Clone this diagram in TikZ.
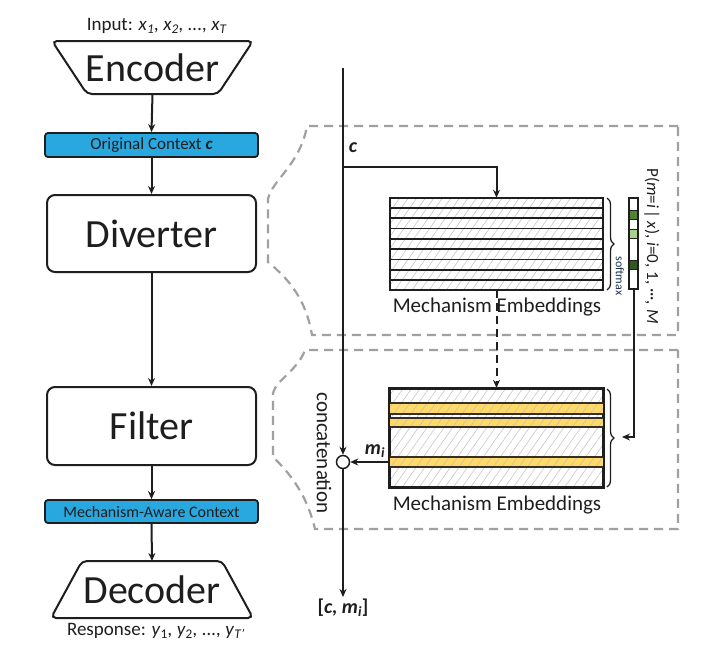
\documentclass[tikz,border=0pt]{standalone}
\usepackage{fontspec}
\setmainfont{Carlito}
\usetikzlibrary{arrows.meta,patterns.meta,decorations.pathreplacing,calc}
\definecolor{ctxblue}{HTML}{29A8E0}
\definecolor{dashgray}{HTML}{A0A0A0}
\definecolor{embyel}{HTML}{FFD966}
\definecolor{gA}{HTML}{548235}
\definecolor{gB}{HTML}{A9D08E}
\definecolor{gC}{HTML}{375623}
\definecolor{ink}{HTML}{1E1E1E}
\definecolor{smblue}{HTML}{1F3050}
\newcommand{\myfs}[1]{\fontsize{#1}{#1}\selectfont}
\begin{document}
\begin{tikzpicture}[x=1pt,y=-1pt, line width=2pt,
  >={Stealth[length=8pt,width=7pt]},
  bigbox/.style={draw=ink, rounded corners=8pt, line width=2pt, minimum width=209pt, minimum height=77pt, inner sep=0, font=\myfs{40}, text=ink},
  ctxbox/.style={draw=ink, fill=ctxblue, rounded corners=3pt, line width=1.8pt, minimum width=213pt, minimum height=24pt, inner sep=0, font=\myfs{16}, text=ink},
  trap/.style={inner sep=0, font=\myfs{40}, text=ink},
  trapline/.style={draw=ink, line width=2pt, rounded corners=5pt},
  conn/.style={->, line width=2pt, draw=ink},
  region/.style={draw=dashgray, dash pattern=on 9pt off 6pt, line width=2.2pt},
  hatch/.style={pattern={Lines[angle=55,distance=7pt,line width=0.5pt]}, pattern color=black!25},
  embbox/.style={draw=ink, line width=2.2pt, minimum width=213pt, inner sep=0},
  lbl/.style={font=\myfs{21}, text=ink, inner sep=0}
]
\useasboundingbox (0,0) rectangle (706,659);

% ---------- dashed regions ----------
\draw[region] (678,126) -- (307,126) .. controls (300,165) and (272,180) .. (268,199) -- (268,262)
  .. controls (290,280) and (306,300) .. (312,335) -- (678,335) -- cycle;
\draw[region] (678,350) -- (305,350) .. controls (298,370) and (276,380) .. (273,393) -- (273,457)
  .. controls (295,478) and (308,500) .. (315,529) -- (678,529) -- cycle;

% ---------- left pipeline ----------
\node[font=\myfs{19}, text=ink, inner sep=0] (inp) at (157,26) {Input: \textit{x}\textsubscript{\textit{1}}\textit{, x}\textsubscript{\textit{2}}\textit{, ..., x}\textsubscript{\textit{T}}};
\node[trap, minimum width=199pt, minimum height=51pt] (enc) at (152.5,67.5) {Encoder};
\draw[trapline] (enc.north west) -- (enc.north east) -- ([xshift=-35pt]enc.south east) -- ([xshift=35pt]enc.south west) -- cycle;
\node[ctxbox, font=\myfs{17}] (ctx) at (151.5,145) {Original Context \textbf{\textit{c}}};
\node[bigbox] (div) at (151.5,233.5) {Diverter};
\node[bigbox, minimum height=78pt] (fil) at (151.5,426) {Filter};
\node[ctxbox, minimum height=23pt] (mac) at (151.5,511.5) {Mechanism-Aware Context};
\node[trap, minimum width=200pt, minimum height=55pt] (dec) at (152,589.5) {Decoder};
\draw[trapline] ([xshift=31pt]dec.north west) -- ([xshift=-31pt]dec.north east) -- (dec.south east) -- (dec.south west) -- cycle;
\node[font=\myfs{19}, text=ink, inner sep=0] (resp) at (156,631) {Response: \textit{y}\textsubscript{1}\textit{, y}\textsubscript{2}\textit{, ..., y}\textsubscript{\textit{T'}}};

\draw[conn] (enc.south) -- (ctx.north);
\draw[conn] (ctx.south) -- (div.north);
\draw[conn] (div.south) -- (fil.north);
\draw[conn] (fil.south) -- (mac.north);
\draw[conn] (mac.south) -- (dec.north);

% ---------- upper mechanism embeddings ----------
\node[embbox, hatch, minimum height=92pt] (embU) at (496.5,244) {};
\foreach \i in {1,...,8}
  \draw[ink, line width=1.8pt] ($(embU.north west)!\i/9!(embU.south west)$) -- ($(embU.north east)!\i/9!(embU.south east)$);
\node[lbl] (labU) at (497,307) {Mechanism Embeddings};

% ---------- lower mechanism embeddings ----------
\node[embbox, hatch, minimum height=98pt] (embL) at (496.5,438) {};
\foreach \ya/\yb in {403/414, 418/427, 457/467}{
  \fill[embyel] (390,\ya) rectangle (603,\yb);
  \fill[hatch] (390,\ya) rectangle (603,\yb);
  \draw[ink!85!brown, line width=1.4pt] (390,\ya) -- (603,\ya) (390,\yb) -- (603,\yb);
}
\draw[ink, line width=2.2pt] (embL.north west) rectangle (embL.south east);
\node[lbl] (labL) at (497,505) {Mechanism Embeddings};

\draw[conn, dash pattern=on 8pt off 5pt] (embU.south) -- (embL.north);

% ---------- braces ----------
\draw[ink, line width=1.3pt, decorate, decoration={brace, amplitude=7pt}] (607,198) -- (607,290);
\draw[ink, line width=1.3pt, decorate, decoration={brace, amplitude=7pt}] (607,389) -- (607,487);
\node[rotate=-90, font=\myfs{12}, text=smblue, inner sep=0] (sm) at (620,276) {softmax};

% ---------- probability bar ----------
\fill[gA] (629,210) rectangle (638,219);
\fill[gB] (629,229) rectangle (638,238);
\fill[gC] (629,260) rectangle (638,269);
\foreach \yy in {210,219,229,238,260,269}
  \draw[ink, line width=0.9pt] (629,\yy) -- (638,\yy);
\node[draw=ink, line width=1.3pt, minimum width=9pt, minimum height=91pt, inner sep=0] (bar) at (633.5,243.5) {};
\node[rotate=-90, font=\myfs{17}, text=ink, inner sep=0] (ptext) at (652,246) {P(\textit{m}=\textit{i}\,|\,\textit{x}), \textit{i}=0, 1, ···, \textit{M}};
\coordinate (bl) at (622,437);
\draw[conn] (bar.south) |- (bl);

% ---------- main vertical line ----------
\coordinate (top) at (343,68);
\coordinate (br) at (343,167);
\node[draw=ink, fill=white, circle, minimum size=13pt, inner sep=0, line width=1.5pt] (cat) at (343,462) {};
\node[anchor=north, font=\myfs{20}, text=ink, inner sep=1pt] (out) at (343,597) {\textbf{[\textit{c, m}\textsubscript{\textit{i}}]}};
\draw[conn] (top) -- (cat.north);
\draw[conn] (cat.south) -- (out.north);
\draw[conn] (br) -| (embU.north);
\node[font=\myfs{20}\bfseries\itshape, text=ink, inner sep=0] (clab) at (353,148) {c};
\node[font=\myfs{20}\bfseries\itshape, text=ink, inner sep=0] (mi) at (375,451) {m\textsubscript{i}};
\draw[conn] (cat -| embL.west) -- (cat.east);
\node[rotate=-90, font=\myfs{21}, text=ink, inner sep=0] (concat) at (324,453) {concatenation};
\end{tikzpicture}
\end{document}
